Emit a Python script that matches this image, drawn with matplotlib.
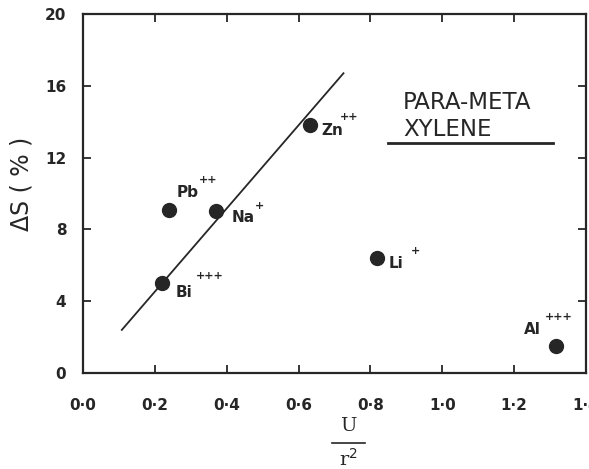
import matplotlib.pyplot as plt
from matplotlib.lines import Line2D

# values
ions = ['Bi', 'Pb', 'Na', 'Zn', 'Li', 'Al']
charges = ['+++', '++', '+', '++', '+', '+++']
u_over_r2 = [0.22, 0.24, 0.37, 0.633, 0.817, 1.317]
delta_s = [5.0, 9.1, 9.05, 13.8, 6.4, 1.5]

# straight line through Bi, Na, Zn
fit_x = [0.108, 0.725]
fit_y = [2.4, 16.7]

x_ticks = [0.0, 0.2, 0.4, 0.6, 0.8, 1.0, 1.2, 1.4]
x_tick_labels = ['0·0', '0·2', '0·4', '0·6', '0·8', '1·0', '1·2', '1·4']
y_ticks = [0, 4, 8, 12, 16, 20]

# label offsets in points (name, charge)
label_pos = {
    'Bi': ((10, -7), (24, 5)),
    'Pb': ((5, 12), (21, 21)),
    'Na': ((11, -5), (28, 3)),
    'Zn': ((8, -4), (21, 6)),
    'Li': ((9, -4), (25, 5)),
    'Al': ((-23, 12), (-8, 21)),
}

ink = '#262626'

fig = plt.figure(figsize=(5.89, 4.69), dpi=100)
ax = fig.add_axes([83 / 589, 1 - 373 / 469, 503 / 589, 359 / 469])

ax.plot(fit_x, fit_y, color=ink, lw=1.3)
ax.plot(u_over_r2, delta_s, 'o', color=ink, ms=10)

for name, ch, x, y in zip(ions, charges, u_over_r2, delta_s):
    (nx, ny), (cx, cy) = label_pos[name]
    ax.annotate(name, (x, y), xytext=(nx, ny), textcoords='offset points',
                fontsize=11, fontweight='bold', color=ink, va='center')
    ax.annotate(ch, (x, y), xytext=(cx, cy), textcoords='offset points',
                fontsize=8, fontweight='bold', color=ink, va='center')

ax.text(0.636, 0.716, 'PARA-META\nXYLENE', transform=ax.transAxes,
        fontsize=16.5, color=ink, linespacing=1.25, va='center', ha='left')
ax.plot([0.606, 0.934], [0.641, 0.641], transform=ax.transAxes, color=ink, lw=2)

ax.set_xlim(0, 1.4)
ax.set_ylim(0, 20)
ax.set_xticks(x_ticks)
ax.set_xticklabels(x_tick_labels)
ax.set_yticks(y_ticks)
ax.tick_params(direction='in', length=6, width=1.3, top=True, right=True,
               labelsize=11, labelcolor=ink, color=ink)
ax.tick_params(axis='x', pad=18)
ax.tick_params(axis='y', pad=12)
for lab in ax.get_xticklabels() + ax.get_yticklabels():
    lab.set_fontweight('bold')
for sp in ax.spines.values():
    sp.set_linewidth(1.6)
    sp.set_color(ink)

ax.set_ylabel('ΔS ( % )', fontsize=17, color=ink)
ax.yaxis.set_label_coords(-0.098, 0.526)

# x label as a fraction U / r^2
fig.text(348 / 589, 1 - 426 / 469, 'U', fontsize=14, family='DejaVu Serif',
         ha='center', va='center', color=ink)
fig.add_artist(Line2D([332 / 589, 365 / 589], [1 - 443 / 469, 1 - 443 / 469],
                      color=ink, lw=1.2))
fig.text(348 / 589, 1 - 459 / 469, 'r$^2$', fontsize=14, family='DejaVu Serif',
         ha='center', va='center', color=ink)

fig.savefig('out.png', dpi=100)
